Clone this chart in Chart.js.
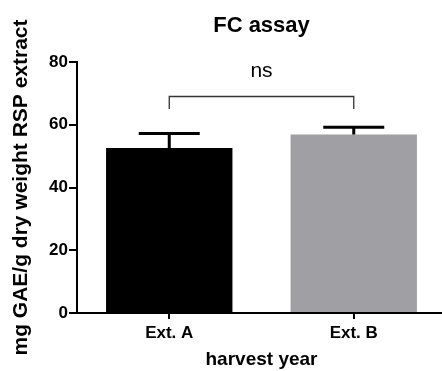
<!DOCTYPE html>
<html>
<head>
<meta charset="utf-8">
<script src="https://cdn.jsdelivr.net/npm/chart.js@4/dist/chart.umd.min.js"></script>
<style>
  html, body { margin: 0; padding: 0; background: #fff; overflow: hidden; }
  #wrap { width: 442px; height: 371px; overflow: hidden; }
</style>
</head>
<body>
<div id="wrap"><canvas id="chart" width="446" height="371"></canvas></div>
<script>
// data
const categories = ["Ext. A", "Ext. B"]
const means = [52.6, 56.9]
const errors = [4.6, 2.3]
const barColors = ["#000000", "#a09fa4"]
const yTicks = [0, 20, 40, 60, 80]
const sigPair = [0, 1]
const sigTop = 69.2
const sigLeg = 65
const sigLabel = "ns"

const font = "'Liberation Sans', Arial, Helvetica, sans-serif"

const extras = {
    id: "extras",
    afterDatasetsDraw(chart) {
        const ctx = chart.ctx
        const xs = chart.scales.x
        const ys = chart.scales.y
        ctx.save()
        // error bars (upper only)
        ctx.strokeStyle = "#000"
        ctx.lineWidth = 3
        for (let i = 0; i < means.length; i++) {
            const x = xs.getPixelForValue(i)
            const y0 = ys.getPixelForValue(means[i])
            const y1 = ys.getPixelForValue(means[i] + errors[i])
            ctx.beginPath()
            ctx.moveTo(x, y0)
            ctx.lineTo(x, y1)
            ctx.moveTo(x - 30.5, y1)
            ctx.lineTo(x + 30.5, y1)
            ctx.stroke()
        }
        // significance bracket
        const xa = xs.getPixelForValue(sigPair[0])
        const xb = xs.getPixelForValue(sigPair[1])
        const yt = Math.round(ys.getPixelForValue(sigTop)) + 0.5
        const yl = ys.getPixelForValue(sigLeg)
        ctx.strokeStyle = "#333"
        ctx.lineWidth = 1.3
        ctx.beginPath()
        ctx.moveTo(xa, yl)
        ctx.lineTo(xa, yt)
        ctx.lineTo(xb, yt)
        ctx.lineTo(xb, yl)
        ctx.stroke()
        ctx.fillStyle = "#000"
        ctx.font = "21px " + font
        ctx.textAlign = "center"
        ctx.textBaseline = "alphabetic"
        ctx.fillText(sigLabel, (xa + xb) / 2, yt - 20)
        ctx.restore()
    }
}

new Chart(document.getElementById("chart"), {
    type: "bar",
    data: {
        labels: categories,
        datasets: [{
            data: means,
            backgroundColor: barColors,
            borderWidth: 0,
            barPercentage: 0.685,
            categoryPercentage: 1
        }]
    },
    options: {
        responsive: false,
        animation: false,
        events: [],
        layout: { padding: 0 },
        plugins: {
            legend: { display: false },
            tooltip: { enabled: false },
            title: {
                display: true,
                fullSize: false,
                text: "FC assay",
                color: "#000",
                font: { family: font, size: 22, weight: "bold" },
                padding: { top: 13, bottom: 22.6 }
            }
        },
        scales: {
            x: {
                grid: {
                    offset: false,
                    drawOnChartArea: false,
                    drawTicks: true,
                    tickLength: 6,
                    color: "#000",
                    lineWidth: 2
                },
                border: { display: true, color: "#000", width: 2 },
                ticks: {
                    color: "#000",
                    font: { family: font, size: 17, weight: "bold" },
                    padding: 4
                },
                title: {
                    display: true,
                    text: "harvest year",
                    color: "#000",
                    font: { family: font, size: 19, weight: "bold" },
                    padding: { top: 0, bottom: 0 }
                },
                afterFit(scale) { scale.height = 58 }
            },
            y: {
                min: 0,
                max: 80,
                afterBuildTicks(scale) { scale.ticks = yTicks.map(v => ({ value: v })) },
                grid: {
                    drawOnChartArea: false,
                    drawTicks: true,
                    tickLength: 8,
                    color: "#000",
                    lineWidth: 2
                },
                border: { display: true, color: "#000", width: 2 },
                ticks: {
                    color: "#000",
                    font: { family: font, size: 17, weight: "bold" },
                    padding: 1
                },
                title: {
                    display: true,
                    text: "mg GAE/g dry weight RSP extract",
                    color: "#000",
                    font: { family: font, size: 21, weight: "bold" },
                    padding: { top: 8.5, bottom: 0 }
                },
                afterFit(scale) { scale.width = 77 }
            }
        }
    },
    plugins: [extras]
})
</script>
</body>
</html>
